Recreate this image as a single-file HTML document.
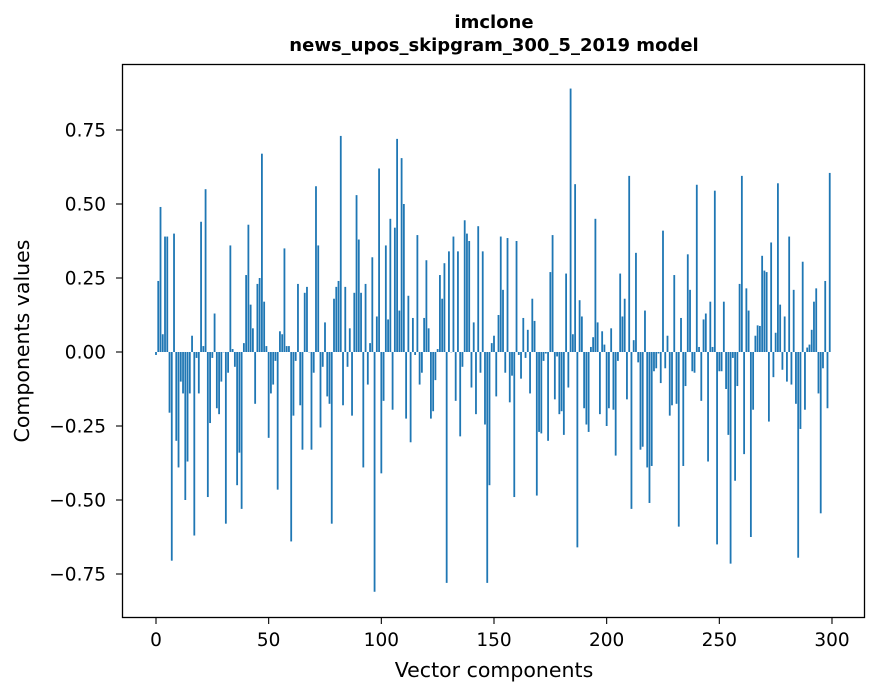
<!DOCTYPE html>
<html><head><meta charset="utf-8"><style>
html,body{margin:0;padding:0;background:#fff;}
svg{display:block;font-family:"DejaVu Sans","Liberation Sans",sans-serif;}
</style></head><body>
<svg id="chart" width="880" height="696" viewBox="0 0 880 696">
<rect width="880" height="696" fill="#fff"/>
<text x="494" y="28" text-anchor="middle" font-weight="bold" font-size="18">imclone</text>
<text x="494" y="51" text-anchor="middle" font-weight="bold" font-size="18">news_upos_skipgram_300_5_2019 model</text>
<g id="bars"></g>
<g id="xticks"></g>
<g id="yticks"></g>
<rect x="122.5" y="64.5" width="742" height="553" fill="none" stroke="#000" stroke-width="1.3"/>
<text x="494" y="677" text-anchor="middle" font-size="20.5">Vector components</text>
<text transform="translate(29,341) rotate(-90)" text-anchor="middle" font-size="20.5">Components values</text>
</svg>
<script>
const values = [
-0.01,0.24,0.49,0.06,0.39,0.39,-0.205,-0.705,0.40,-0.30,
-0.39,-0.10,-0.14,-0.50,-0.37,-0.14,0.055,-0.62,-0.02,-0.14,
0.44,0.02,0.55,-0.49,-0.24,-0.02,0.13,-0.19,-0.21,-0.10,
0,-0.58,-0.07,0.36,0.01,-0.05,-0.45,-0.34,-0.53,0.03,
0.26,0.43,0.16,0.08,-0.175,0.23,0.25,0.67,0.17,0.02,
-0.29,-0.14,-0.11,-0.03,-0.465,0.07,0.06,0.35,0.02,0.02,
-0.64,-0.215,-0.03,0.23,-0.18,-0.33,0.20,0.22,0,-0.33,
-0.07,0.56,0.36,-0.255,-0.05,0.10,-0.15,-0.175,-0.58,0.18,
0.22,0.24,0.73,-0.18,0.22,-0.05,0.08,-0.215,0.20,0.53,
0.38,0.20,-0.39,0.23,-0.11,0.03,0.32,-0.81,0.12,0.62,
-0.41,-0.165,0.36,0.11,0.45,-0.195,0.42,0.72,0.14,0.655,
0.50,-0.225,0.19,-0.305,0.115,-0.01,0.395,-0.11,-0.07,0.115,
0.31,0.08,-0.225,-0.20,-0.095,0.01,0.26,0.18,0.30,-0.78,
0.34,0,0.39,-0.165,0.34,-0.285,-0.05,0.445,0.40,0.375,
-0.12,0.10,-0.21,0.425,-0.07,0.34,-0.245,-0.78,-0.45,0.03,
0.055,-0.15,0.125,0.39,0.21,-0.07,0.385,-0.17,-0.08,-0.49,
0.375,-0.01,-0.09,0.115,-0.02,0.075,-0.14,0.18,0.105,-0.485,
-0.27,-0.275,-0.03,-0.005,-0.30,0.27,0.395,-0.16,-0.015,-0.21,
-0.20,-0.28,0.265,-0.12,0.89,0.06,0.567,-0.66,0.175,0.12,
-0.19,-0.245,-0.27,0.017,0.05,0.45,0.10,-0.21,0.07,0.025,
-0.25,-0.19,0.08,-0.195,-0.35,-0.03,0.265,0.12,0.18,-0.16,
0.595,-0.53,0.04,0.335,-0.035,-0.33,-0.32,0.14,-0.39,-0.51,
-0.385,-0.065,-0.055,-0.005,-0.105,0.41,-0.055,0.055,-0.215,-0.18,
0.26,-0.175,-0.59,0.115,-0.385,-0.115,0.33,0.21,-0.065,-0.07,
0.565,0.017,-0.165,0.11,0.13,-0.37,0.17,0.017,0.545,-0.65,
-0.065,-0.065,0.17,-0.125,-0.28,-0.715,-0.02,-0.435,-0.115,0.23,
0.595,-0.345,0.215,0.14,-0.625,-0.195,0.055,0.09,0.088,0.325,
0.275,0.27,-0.235,0.37,-0.085,0.065,0.57,0.16,-0.06,0.12,
-0.10,0.39,-0.11,0.21,-0.175,-0.695,-0.26,0.305,-0.195,0.015,
0.025,0.075,0.17,0.215,-0.14,-0.545,-0.055,0.24,-0.19,0.605
];
const xTickValues = [0,50,100,150,200,250,300];
const yTickValues = [-0.75,-0.5,-0.25,0,0.25,0.5,0.75];
const yTickLabels = ["\u22120.75","\u22120.50","\u22120.25","0.00","0.25","0.50","0.75"];

const NS = "http://www.w3.org/2000/svg";
function xScale(v){ return 156 + v * 2.2533; }
function yScale(v){ return 352 - v * 296; }

const barsG = document.getElementById('bars');
values.forEach((v, i) => {
  const r = document.createElementNS(NS, 'rect');
  const w = 0.8 * 2.2533;
  const y0 = yScale(0), y1 = yScale(v);
  r.setAttribute('x', xScale(i) - w / 2);
  r.setAttribute('y', Math.min(y0, y1));
  r.setAttribute('width', w);
  r.setAttribute('height', Math.max(Math.abs(y1 - y0), 0.3));
  r.setAttribute('fill', '#1f77b4');
  
  
  barsG.appendChild(r);
});

const xg = document.getElementById('xticks');
xTickValues.forEach(t => {
  const x = xScale(t);
  const l = document.createElementNS(NS, 'line');
  l.setAttribute('x1', x); l.setAttribute('x2', x);
  l.setAttribute('y1', 617.5); l.setAttribute('y2', 624);
  l.setAttribute('stroke', '#000'); l.setAttribute('stroke-width', '1.1');
  
  
  xg.appendChild(l);
  const tx = document.createElementNS(NS, 'text');
  tx.setAttribute('x', x); tx.setAttribute('y', 646);
  tx.setAttribute('text-anchor', 'middle'); tx.setAttribute('font-size', '18.5');
  tx.textContent = String(t);
  
  
  xg.appendChild(tx);
});

const yg = document.getElementById('yticks');
yTickValues.forEach((t, i) => {
  const y = yScale(t);
  const l = document.createElementNS(NS, 'line');
  l.setAttribute('x1', 116); l.setAttribute('x2', 122.5);
  l.setAttribute('y1', y); l.setAttribute('y2', y);
  l.setAttribute('stroke', '#000'); l.setAttribute('stroke-width', '1.1');
  
  
  yg.appendChild(l);
  const tx = document.createElementNS(NS, 'text');
  tx.setAttribute('x', 106); tx.setAttribute('y', y + 6.5);
  tx.setAttribute('text-anchor', 'end'); tx.setAttribute('font-size', '18.5');
  tx.textContent = yTickLabels[i];
  
  
  yg.appendChild(tx);
});
</script>
</body></html>
